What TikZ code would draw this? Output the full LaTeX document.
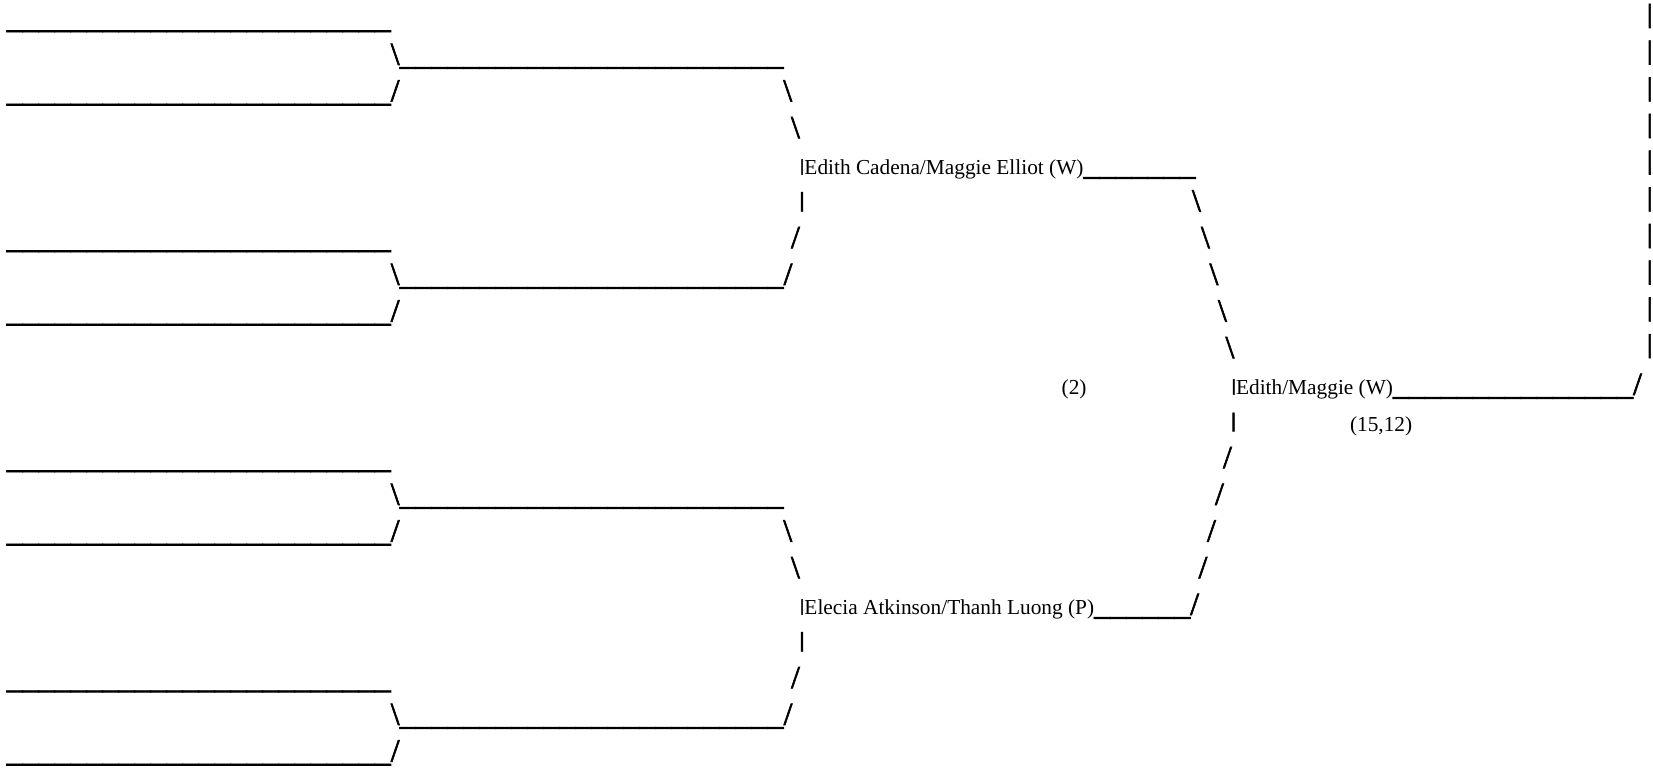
\documentclass[tikz,border=0pt]{standalone}
\usepackage{fontspec}
\usepackage{graphicx}
\setmainfont{Liberation Serif}
\newfontfamily\artfont{Liberation Serif}[FakeBold=2]
\newcount\ulcnt
\newcommand\UL[1]{\ulcnt=#1\relax\loop\ifnum\ulcnt>0 \_\advance\ulcnt by -1\relax\repeat}
\newcommand\bs{\textbackslash}
\newcommand\artsize{\artfont\fontsize{24}{28}\selectfont}
% a bar character scaled to a given width and height, standing on the baseline
\newcommand\vb[2]{\raisebox{\depth}{\resizebox*{#1}{#2}{|}}}
\begin{document}
\begin{tikzpicture}[x=0.75pt,y=-0.75pt,
  art/.style={inner sep=0pt,outer sep=0pt,anchor=base west,font=\artsize},
  lab/.style={inner sep=0pt,outer sep=0pt,anchor=base west,font=\fontsize{16}{19}\selectfont}]
\path[use as bounding box, fill=white] (0,0) rectangle (1653,770);
% upper half
\node[art] (a0) at (6.7,28) {\UL{24}};
\node[art] (a1) at (390.7,64.67) {\bs\UL{24}};
\node[art] (a2) at (6.7,101.34) {\UL{24}/};
\node[art] (b2) at (783.3,101.34) {\bs};
\node[art] (b3) at (791,138) {\bs};
\node[lab] (c4) at (799.8,174.7) {{\artsize\vb{3.5pt}{11.5pt}}Edith Cadena/Maggie Elliot (W)\artsize\UL{7}};
\node[art] (b5) at (798.8,211.4) {\vb{4.8pt}{14.5pt}};
\node[art] (d5) at (1192,211.4) {\bs};
\node[art] (a6) at (6.7,248) {\UL{24}};
\node[art] (b6) at (791,248) {/};
\node[art] (d6) at (1201,248) {\bs};
\node[art] (a7) at (390.7,284.7) {\bs\UL{24}/};
\node[art] (d7) at (1209.5,284.7) {\bs};
\node[art] (a8) at (6.7,321.4) {\UL{24}/};
\node[art] (d8) at (1218,321.4) {\bs};
\node[art] (d9) at (1225.5,358) {\bs};
% right column bars
\foreach \n in {0,...,9} {
  \node[art] (f\n) at (1646.6,{28+36.67*\n}) {\vb{4.8pt}{18pt}};
}
% middle
\node[lab] (s10) at (1061.7,394.7) {(2)};
\node[lab] (e10) at (1231.4,394.7) {{\artsize\vb{3.5pt}{11.5pt}}Edith/Maggie (W)\artsize\UL{15}/};
\node[art] (e11) at (1230.4,431.4) {\vb{4.8pt}{14pt}};
\node[lab] (s11) at (1350,431.4) {(15,12)};
% lower half
\node[art] (a12) at (6.7,468) {\UL{24}};
\node[art] (d12) at (1223,468) {/};
\node[art] (a13) at (390.7,504.7) {\bs\UL{24}};
\node[art] (d13) at (1215,504.7) {/};
\node[art] (a14) at (6.7,541.4) {\UL{24}/};
\node[art] (b14) at (783.3,541.4) {\bs};
\node[art] (d14) at (1207,541.4) {/};
\node[art] (b15) at (791,578.1) {\bs};
\node[art] (d15) at (1198.5,578.1) {/};
\node[lab] (c16) at (799.8,614.7) {{\artsize\vb{3.5pt}{11.5pt}}Elecia Atkinson/Thanh Luong (P)\artsize\UL{6}/};
\node[art] (b17) at (798.8,651.4) {\vb{4.8pt}{14.5pt}};
\node[art] (a18) at (6.7,688.1) {\UL{24}};
\node[art] (b18) at (791,688.1) {/};
\node[art] (a19) at (390.7,724.7) {\bs\UL{24}/};
\node[art] (a20) at (6.7,761.4) {\UL{24}/};
\end{tikzpicture}
\end{document}
